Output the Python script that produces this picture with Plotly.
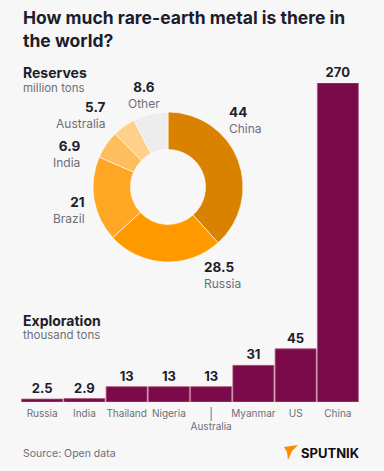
import plotly.graph_objects as go

W, H = 384, 471

# Reserves (million tons)
res_labels = ["China", "Russia", "Brazil", "India", "Australia", "Other"]
res_values = [44, 28.5, 21, 6.9, 5.7, 8.6]
res_text = ["44", "28.5", "21", "6.9", "5.7", "8.6"]
res_colors = ["#D98200", "#FF9900", "#FFA624", "#FFBE5E", "#FFD08C", "#EDEDED"]

# Exploration (thousand tons)
exp_countries = ["Russia", "India", "Thailand", "Nigeria", "Australia", "Myanmar", "US", "China"]
exp_values = [2.5, 2.9, 13, 13, 13, 31, 45, 270]
exp_text = ["2.5", "2.9", "13", "13", "13", "31", "45", "270"]
exp_ticktext = ["Russia", "India", "Thailand", "Nigeria", "<br>Australia", "Myanmar", "US", "China"]

FONT = "Inter"
DARK = "#1d1d2b"
GRAY = "#6e6e78"

def px(x):
    return x / W

def py(y):
    return 1 - y / H

fig = go.Figure()

fig.add_trace(go.Bar(
    x=exp_countries, y=exp_values, text=exp_text, textposition="outside",
    cliponaxis=False,
    textfont=dict(family=FONT, size=13, color=DARK, weight="bold"),
    marker=dict(color="#7B0A4A", line=dict(color="#B0587F", width=0.8)),
    hoverinfo="skip", xaxis="x", yaxis="y",
))

fig.add_trace(go.Pie(
    labels=res_labels, values=res_values, sort=False, direction="clockwise",
    rotation=0, hole=0.5, textinfo="none", showlegend=False,
    marker=dict(colors=res_colors, line=dict(color="#ffffff", width=0.6)),
    domain=dict(x=[px(93), px(243)], y=[py(262), py(112)]),
))

fig.update_layout(
    width=W, height=H, margin=dict(l=0, r=0, t=0, b=0, autoexpand=False),
    paper_bgcolor="#f7f7f7", plot_bgcolor="rgba(0,0,0,0)",
    showlegend=False, bargap=0.03,
    xaxis=dict(domain=[px(21), px(359)], range=[-0.5, 7.5], showgrid=False,
               zeroline=False, showline=False, ticks="", tickangle=0,
               automargin=False,
               tickmode="array", tickvals=exp_countries, ticktext=exp_ticktext,
               tickfont=dict(family=FONT, size=10, color=GRAY),
               ticklabelstandoff=4, fixedrange=True),
    yaxis=dict(domain=[py(402), py(83)], range=[0, 270], visible=False, fixedrange=True),
    font=dict(family=FONT),
)

# Australia tick marker
fig.add_shape(type="line", xref="x", yref="paper", x0=4, x1=4,
              y0=py(407), y1=py(421), line=dict(color="#777777", width=1))

ann = []
def add(text, x, y, size, color, bold=False, xanchor="left", align="left"):
    ann.append(dict(text=f"<b>{text}</b>" if bold else text, x=px(x), y=py(y),
                    xref="paper", yref="paper", xanchor=xanchor, yanchor="middle",
                    align=align, showarrow=False,
                    font=dict(family=FONT, size=size, color=color)))

add("How much rare-earth metal is there in", 21, 18, 17.5, DARK, True)
add("the world?", 21, 41, 17.5, DARK, True)
add("Reserves", 21, 73, 14, DARK, True)
add("million tons", 21, 88, 11.5, GRAY)
add("Exploration", 21, 320, 14, DARK, True)
add("thousand tons", 21, 335, 11.5, GRAY)
add("Source: Open data", 21, 453, 10.5, GRAY)

# donut labels: (x, centre y, anchor)
pie_pos = {
    "China": (227, 120, "left"),
    "Russia": (202, 275, "left"),
    "Brazil": (87, 209.5, "right"),
    "India": (83, 153.5, "right"),
    "Australia": (108, 115, "right"),
    "Other": (144, 95, "center"),
}
for lab, t in zip(res_labels, res_text):
    x, yc, anc = pie_pos[lab]
    txt = f"<span style='font-size:13.5px;color:{DARK}'><b>{t}</b></span><br>{lab}"
    add(txt, x, yc, 12, GRAY, False, anc, anc)

# Sputnik logo
add("SPUTNIK", 299, 453, 13, "#111111", True)
fig.add_shape(type="path", xref="paper", yref="paper",
              path=(f"M {px(284)} {py(447)} L {px(298)} {py(445)} L {px(292)} {py(451)} "
                    f"L {px(288)} {py(460)} L {px(287)} {py(452)} Z"),
              fillcolor="#FF8A00", line=dict(width=0))

fig.update_layout(annotations=ann)
fig.write_html("out.html", config={"displayModeBar": False},
               post_script="document.body.style.margin='0';")
